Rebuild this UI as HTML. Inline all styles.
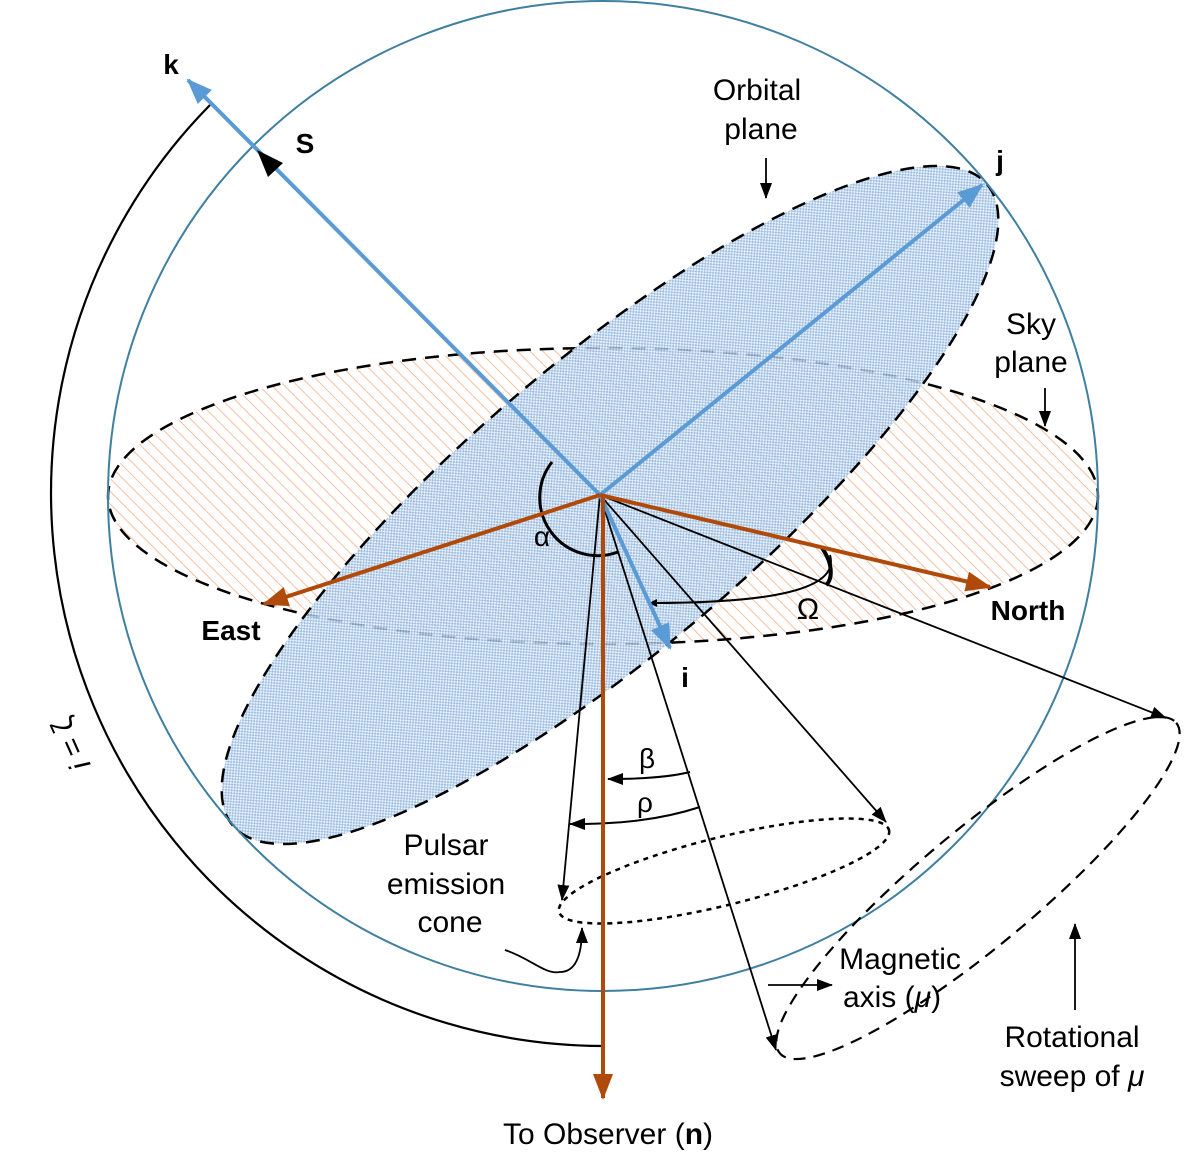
<!DOCTYPE html>
<html><head><meta charset="utf-8"><style>
html,body{margin:0;padding:0;background:#fff;}
svg{display:block;}
text{font-family:"Liberation Sans",sans-serif;}
</style></head><body>
<svg width="1200" height="1166" viewBox="0 0 1200 1166" xmlns="http://www.w3.org/2000/svg">
<defs>
<pattern id="hatch" width="9" height="9" patternUnits="userSpaceOnUse" patternTransform="rotate(-45)">
<rect width="9" height="9" fill="#fff"/>
<line x1="0" y1="0" x2="0" y2="9" stroke="#f7b896" stroke-width="1.8"/>
</pattern>
<pattern id="check" width="4" height="4" patternUnits="userSpaceOnUse">
<rect width="4" height="4" fill="#e4eef9"/>
<rect width="2" height="2" fill="#8fb4dd"/>
<rect x="2" y="2" width="2" height="2" fill="#8fb4dd"/>
</pattern>
<marker id="ab" markerWidth="8" markerHeight="8" refX="7" refY="4" orient="auto" markerUnits="userSpaceOnUse" viewBox="0 0 8 8"><path d="M0,0 L8,4 L0,8 Z" fill="#000"/></marker>
<marker id="abk" markerWidth="16" markerHeight="12" refX="15" refY="6" orient="auto" markerUnits="userSpaceOnUse"><path d="M0,0 L16,6 L0,12 Z" fill="#000"/></marker>
<marker id="ablue" markerWidth="26" markerHeight="20" refX="24" refY="10" orient="auto" markerUnits="userSpaceOnUse"><path d="M0,0 L26,10 L0,20 Z" fill="#5b9bd5"/></marker>
<marker id="abr" markerWidth="26" markerHeight="20" refX="24" refY="10" orient="auto" markerUnits="userSpaceOnUse"><path d="M0,0 L26,10 L0,20 Z" fill="#b04a0a"/></marker>
</defs>

<ellipse cx="603" cy="496" rx="495" ry="148" fill="url(#hatch)"/>
<ellipse cx="603" cy="496" rx="495" ry="148" fill="none" stroke="#000" stroke-width="2.5" stroke-dasharray="14 9"/>
<ellipse cx="610" cy="505" rx="495" ry="144" transform="rotate(-40.4 610 505)" fill="url(#check)" fill-opacity="0.85"/>
<ellipse cx="610" cy="505" rx="495" ry="144" transform="rotate(-40.4 610 505)" fill="none" stroke="#000" stroke-width="2.5" stroke-dasharray="14 9"/>

<circle cx="603" cy="496" r="495" fill="none" stroke="#3f7fa0" stroke-width="2"/>

<path d="M210,105 A553,553 0 0 0 603,1046" fill="none" stroke="#000" stroke-width="2.2"/>
<text transform="translate(80,740) rotate(-114)" font-size="30" text-anchor="middle"><tspan font-style="italic">i</tspan> = ζ</text>

<path d="M552,462 A58,58 0 0 0 618,552" fill="none" stroke="#000" stroke-width="3"/>
<text x="542" y="546" font-size="28" text-anchor="middle">α</text>

<path d="M830,555 C840,590 770,603 650,603" fill="none" stroke="#000" stroke-width="2" marker-end="url(#ab)"/>
<path d="M822,548 C834,565 832,580 826,585" fill="none" stroke="#000" stroke-width="4"/>
<text x="808" y="619" font-size="30" text-anchor="middle">Ω</text>

<g stroke="#000" stroke-width="1.8" fill="none">
<line x1="600" y1="495" x2="562" y2="900" marker-end="url(#abk)"/>
<line x1="600" y1="495" x2="776" y2="1050" marker-end="url(#abk)"/>
<line x1="600" y1="495" x2="886" y2="822" marker-end="url(#abk)"/>
<line x1="600" y1="495" x2="1166" y2="718" marker-end="url(#abk)"/>
</g>

<ellipse cx="724" cy="871" rx="170" ry="34" transform="rotate(-13.9 724 871)" fill="none" stroke="#000" stroke-width="2.5" stroke-dasharray="5 5"/>
<ellipse cx="978" cy="888" rx="258" ry="58" transform="rotate(-39.8 978 888)" fill="none" stroke="#000" stroke-width="2.2" stroke-dasharray="12 8"/>

<path d="M690,772 C670,777 640,779 608,779" fill="none" stroke="#000" stroke-width="2" marker-end="url(#abk)"/>
<path d="M700,807 C660,820 620,824 570,824" fill="none" stroke="#000" stroke-width="2" marker-end="url(#abk)"/>
<text x="647" y="768" font-size="28" text-anchor="middle">β</text>
<text x="645" y="812" font-size="28" text-anchor="middle">ρ</text>

<line x1="600" y1="495" x2="188" y2="80" stroke="#5b9bd5" stroke-width="4" marker-end="url(#ablue)"/>
<line x1="600" y1="495" x2="982" y2="185" stroke="#5b9bd5" stroke-width="4" marker-end="url(#ablue)"/>
<line x1="600" y1="495" x2="670" y2="648" stroke="#5b9bd5" stroke-width="4" marker-end="url(#ablue)"/>
<path d="M257,150 L283,163 L268,177 Z" fill="#000"/>

<line x1="600" y1="495" x2="264" y2="604" stroke="#b04a0a" stroke-width="4" marker-end="url(#abr)"/>
<line x1="600" y1="495" x2="990" y2="587" stroke="#b04a0a" stroke-width="4" marker-end="url(#abr)"/>
<line x1="603" y1="495" x2="603" y2="1098" stroke="#b04a0a" stroke-width="4" marker-end="url(#abr)"/>

<line x1="766" y1="158" x2="766" y2="198" stroke="#000" stroke-width="1.8" marker-end="url(#abk)"/>
<line x1="1045" y1="388" x2="1045" y2="426" stroke="#000" stroke-width="1.8" marker-end="url(#abk)"/>
<line x1="1075" y1="1010" x2="1075" y2="924" stroke="#000" stroke-width="1.8" marker-end="url(#abk)"/>
<line x1="768" y1="985" x2="832" y2="985" stroke="#000" stroke-width="1.8" marker-end="url(#abk)"/>
<path d="M505,950 C530,958 545,975 560,972 C578,972 582,950 582,928" fill="none" stroke="#000" stroke-width="1.8" marker-end="url(#abk)"/>

<g font-size="30" fill="#000">
<text x="171" y="74" font-weight="bold" text-anchor="middle" font-size="28">k</text>
<text x="305" y="153" font-weight="bold" text-anchor="middle" font-size="28">S</text>
<text x="1000" y="170" font-weight="bold" text-anchor="middle" font-size="28">j</text>
<text x="685" y="687" font-weight="bold" text-anchor="middle" font-size="28">i</text>
<text x="231" y="640" font-weight="bold" text-anchor="middle" font-size="28">East</text>
<text x="1028" y="620" font-weight="bold" text-anchor="middle" font-size="28">North</text>
<text x="757" y="100" text-anchor="middle">Orbital</text>
<text x="761" y="139" text-anchor="middle">plane</text>
<text x="1031" y="334" text-anchor="middle">Sky</text>
<text x="1031" y="372" text-anchor="middle">plane</text>
<text x="446" y="855" text-anchor="middle">Pulsar</text>
<text x="446" y="894" text-anchor="middle">emission</text>
<text x="450" y="932" text-anchor="middle">cone</text>
<text x="900" y="969" text-anchor="middle">Magnetic</text>
<text x="892" y="1007" text-anchor="middle">axis (<tspan font-style="italic">μ</tspan>)</text>
<text x="1072" y="1047" text-anchor="middle">Rotational</text>
<text x="1072" y="1086" text-anchor="middle">sweep of <tspan font-style="italic">μ</tspan></text>
<text x="608" y="1144" text-anchor="middle">To Observer (<tspan font-weight="bold">n</tspan>)</text>
</g>
</svg>
</body></html>
